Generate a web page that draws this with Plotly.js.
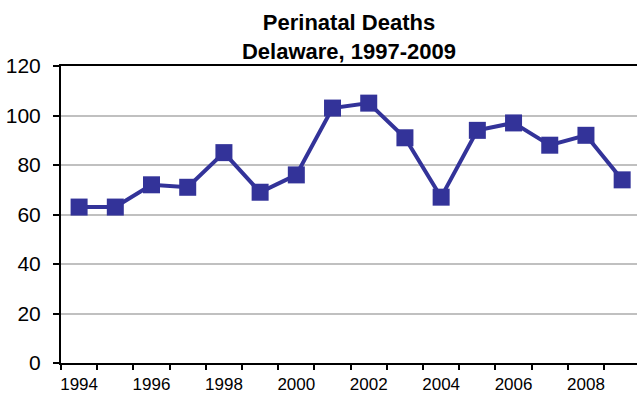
<!DOCTYPE html>
<html>
<head>
<meta charset="utf-8">
<script src="https://cdn.plot.ly/plotly-3.0.1.min.js"></script>
<style>html,body{margin:0;padding:0;background:#fff;}#chart{width:637px;height:402px;}</style>
</head>
<body>
<div id="chart"></div>
<script>
var years = [1994,1995,1996,1997,1998,1999,2000,2001,2002,2003,2004,2005,2006,2007,2008,2009];
var deaths = [63,63,72,71,85,69,76,103,105,91,67,94,97,88,92,74];
var labelYears = [1994,1996,1998,2000,2002,2004,2006,2008];
var boundaryTicks = years.map(function(y){return y-0.5;}).concat([2009.5]);

var trace = {
  x: years, y: deaths, type: 'scatter', mode: 'lines+markers',
  line: {color: '#333399', width: 4},
  marker: {symbol: 'square', size: 17, color: '#333399'},
  hoverinfo: 'x+y'
};
var xr = [1993.5, 2009.41];
var layout = {
  width: 637, height: 402,
  margin: {l: 61, r: 0, t: 66, b: 39},
  paper_bgcolor: '#fff', plot_bgcolor: '#fff',
  showlegend: false,
  font: {family: 'Liberation Sans, Arial, sans-serif', color: '#000'},
  title: {
    text: '<b>Perinatal Deaths<br>Delaware, 1997-2009</b>',
    font: {size: 22, family: 'Liberation Sans, Arial, sans-serif', color: '#000'},
    x: 0.5, xref: 'paper', y: 0.925, yref: 'container', yanchor: 'bottom'
  },
  xaxis: {
    range: xr, tickmode: 'array', tickvals: boundaryTicks,
    ticktext: boundaryTicks.map(function(){return '';}),
    ticks: 'outside', ticklen: 5, tickwidth: 2, tickcolor: '#000',
    showline: true, linecolor: '#000', linewidth: 2, mirror: true,
    showgrid: false, zeroline: false, fixedrange: true
  },
  xaxis2: {
    range: xr, overlaying: 'x', side: 'bottom', anchor: 'y',
    tickmode: 'array', tickvals: labelYears, ticktext: labelYears.map(String),
    ticks: '', showline: false, showgrid: false, zeroline: false,
    tickfont: {size: 17, color: '#000'}, ticklabelstandoff: 9, fixedrange: true
  },
  yaxis: {
    range: [0, 120], dtick: 20, tick0: 0,
    ticks: 'outside', ticklen: 6, tickwidth: 2, tickcolor: '#000',
    showline: true, linecolor: '#000', linewidth: 2,
    showgrid: true, gridcolor: '#c0c0c0', gridwidth: 2, zeroline: false,
    tickfont: {size: 21, color: '#000'}, ticklabelstandoff: 8, fixedrange: true
  }
};
var dummy = {x: [years[0]], y: [deaths[0]], xaxis: 'x2', type: 'scatter', mode: 'markers', marker: {opacity: 0}, hoverinfo: 'skip'};
Plotly.newPlot('chart', [dummy, trace], layout, {displayModeBar: false, staticPlot: true});
</script>
</body>
</html>
